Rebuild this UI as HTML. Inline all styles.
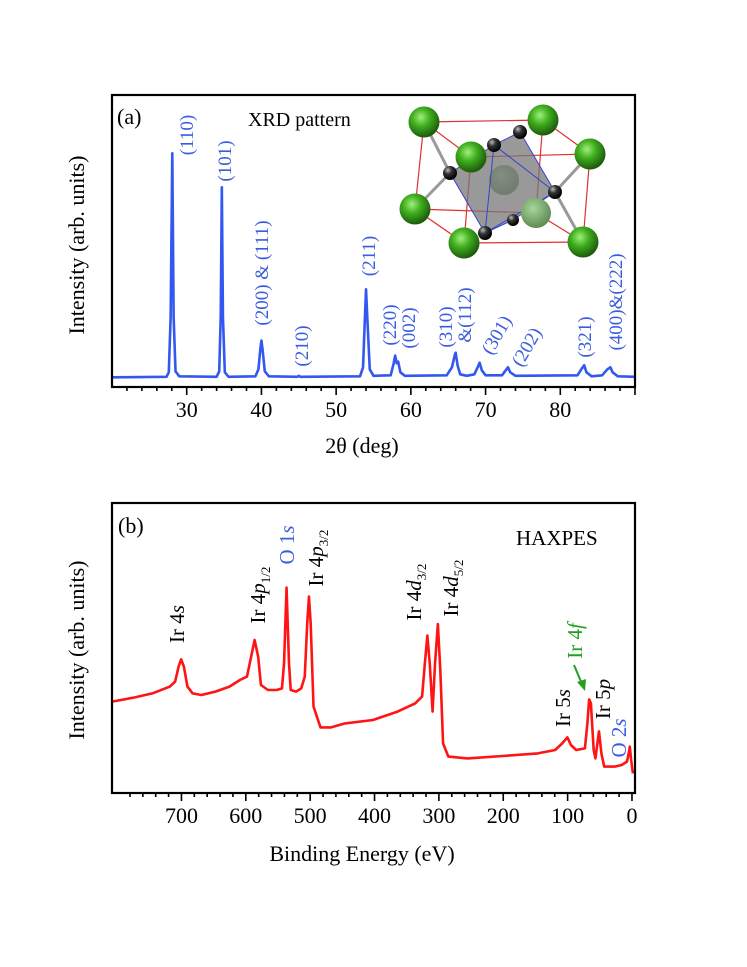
<!DOCTYPE html>
<html><head><meta charset="utf-8"><style>
html,body{margin:0;padding:0;background:#fff}
svg{display:block;font-family:"Liberation Serif",serif}
</style></head><body>
<svg id="fig" width="747" height="967" viewBox="0 0 747 967" xmlns="http://www.w3.org/2000/svg">
<defs>
<radialGradient id="gg" cx="0.4" cy="0.35" r="0.65"><stop offset="0" stop-color="#9ef07a"/><stop offset="0.45" stop-color="#3fae1e"/><stop offset="1" stop-color="#1d5a0c"/></radialGradient>
<radialGradient id="gf" cx="0.4" cy="0.35" r="0.65"><stop offset="0" stop-color="#a8d59a"/><stop offset="1" stop-color="#5f8c55"/></radialGradient>
<radialGradient id="gb" cx="0.35" cy="0.3" r="0.7"><stop offset="0" stop-color="#bbb"/><stop offset="0.4" stop-color="#333"/><stop offset="1" stop-color="#000"/></radialGradient>
</defs>
<g id="panelA"></g>
<g id="panelB"></g>
</svg>
<script>
// ---------- Panel (a) XRD data ----------
const xrdAngles = [20,27.3,27.6,27.85,28.07,28.25,28.5,29,34.0,34.35,34.55,34.7,34.85,35.1,35.6,39.2,39.6,39.85,40.0,40.15,40.45,41,44.8,45.0,45.2,53.2,53.6,53.85,54.0,54.2,54.5,55,57.3,57.7,57.9,58.1,58.3,58.6,59.2,64.8,65.5,65.9,66.0,66.25,66.6,67.5,68.5,69.0,69.2,69.5,70.0,72.2,72.8,73.0,73.3,74,82.3,82.9,83.2,83.5,84.2,85.6,86.3,86.7,87.0,87.7,90];
const xrdIntensity = [0,0.5,5,60,224,60,6,1,0.5,6,60,190,60,5,0.5,1,8,28,36.7,28,6,1,0.5,1.5,0.5,1,10,60,88,55,8,1.5,2,14,21.7,14,15.7,5,1.5,2,10,23,24.6,12,3,1.5,3,11,14.6,7,2,2,8,10,5,1.5,2,9,12,5,1,2,8,10,5,1,0.5];
const xrdTicks = [30,40,50,60,70,80,90];
const xrdTickLabels = ["30","40","50","60","70","80",""];
// ---------- Panel (b) HAXPES data ----------
const beEnergy = [807.8,772.4,745.2,718.0,709.8,704.4,700.5,696.2,690.7,682.6,669.0,647.2,625.4,609.1,598.2,591.7,586.3,580.8,576.5,565.6,552.0,543.8,540.6,536.7,532.9,530.2,522.0,513.9,508.4,504.6,501.9,499.2,494.8,483.9,467.6,445.9,402.3,364.2,337.0,326.1,321.8,317.9,314.2,309.8,306.0,301.6,297.8,293.5,285.3,255.4,201.0,146.5,119.3,108.5,100.3,94.9,86.7,73.1,69.3,66.5,63.8,59.5,56.8,51.3,47.5,43.2,26.8,16.0,7.8,5.1,3.4,1.3,-1.5];
const beIntensity = [45.7,47.8,49.8,53.2,55.7,63.2,66.8,63.2,53.2,49.8,49.0,50.7,53.2,56.5,58.2,68.2,76.5,68.2,54.0,51.5,51.5,52.3,64.8,102.7,64.8,51.5,50.7,52.3,58.2,84.8,98.2,84.8,43.2,32.8,32.8,34.8,36.5,40.7,44.8,48.2,64.8,78.7,64.8,40.7,64.8,84.5,61.5,24.8,18.2,17.3,18.5,19.8,21.5,24.8,27.8,24.0,21.5,22.3,34.8,46.8,44.8,21.5,17.3,30.8,19.8,13.2,13.2,14.0,15.7,19.8,23.2,16.5,9.8];
const beTicks = [700,600,500,400,300,200,100,0];
const beTickLabels = ["700","600","500","400","300","200","100","0"];

const NS="http://www.w3.org/2000/svg";
function mk(tag,attrs,parent){const e=document.createElementNS(NS,tag);for(const k in attrs)e.setAttribute(k,attrs[k]);parent.appendChild(e);return e;}
function scale(d0,d1,r0,r1){return v=>r0+(v-d0)*(r1-r0)/(d1-d0);}

// ===== Panel A =====
const A=document.getElementById('panelA');
const ax=scale(20,90,112,635), ay=scale(-9.7,282.3,387,95);
let p='';xrdAngles.forEach((a,i)=>{p+=(i?'L':'M')+ax(a).toFixed(2)+','+ay(xrdIntensity[i]).toFixed(2);});
const xl=mk('path',{d:p,fill:'none',stroke:'#3358f0','stroke-width':2.6,'stroke-linejoin':'round'},A);


for(let v=22;v<90;v+=2){if(v%10===0)continue;const t=mk('line',{x1:ax(v),x2:ax(v),y1:387,y2:391,stroke:'#000','stroke-width':1.6},A);

}
xrdTicks.forEach((v,i)=>{const t=mk('line',{x1:ax(v),x2:ax(v),y1:387,y2:395,stroke:'#000','stroke-width':1.6},A);


const l=mk('text',{x:ax(v),y:417,'text-anchor':'middle','font-size':22},A);l.textContent=xrdTickLabels[i];

});
const af=mk('rect',{x:112,y:95,width:523,height:292,fill:'none',stroke:'#000','stroke-width':2.2},A);



// ===== Panel B =====
const B=document.getElementById('panelB');
const bx=scale(807.9,-4.7,112,635), by=scale(0,145,793,503);
p='';beEnergy.forEach((e,i)=>{p+=(i?'L':'M')+bx(e).toFixed(2)+','+by(beIntensity[i]).toFixed(2);});
const bl=mk('path',{d:p,fill:'none',stroke:'#ff1414','stroke-width':2.6,'stroke-linejoin':'round'},B);


for(let v=780;v>0;v-=20){if(v%100===0)continue;const t=mk('line',{x1:bx(v),x2:bx(v),y1:793,y2:797,stroke:'#000','stroke-width':1.6},B);

}
beTicks.forEach((v,i)=>{const t=mk('line',{x1:bx(v),x2:bx(v),y1:793,y2:801,stroke:'#000','stroke-width':1.6},B);


const l=mk('text',{x:bx(v),y:823,'text-anchor':'middle','font-size':22},B);l.textContent=beTickLabels[i];

});
const bf=mk('rect',{x:112,y:503,width:523,height:290,fill:'none',stroke:'#000','stroke-width':2.2},B);


</script>
<svg width="747" height="967" style="position:absolute;left:0;top:0" xmlns="http://www.w3.org/2000/svg" font-family="Liberation Serif, serif">
<!-- axis titles -->
<text x="362" y="453" font-size="22" text-anchor="middle">2θ (deg)</text>
<text transform="translate(84,245) rotate(-90)" font-size="22" text-anchor="middle">Intensity (arb. units)</text>
<text x="362" y="861" font-size="22" text-anchor="middle">Binding Energy (eV)</text>
<text transform="translate(84,650) rotate(-90)" font-size="22" text-anchor="middle">Intensity (arb. units)</text>
<!-- panel a labels -->
<text x="117" y="124" font-size="22">(a)</text>
<text x="248" y="126" font-size="20">XRD pattern</text>
<g fill="#3a5ce0" font-size="19" text-anchor="middle">
<text transform="translate(193,135) rotate(-90)">(110)</text>
<text transform="translate(231,161) rotate(-90)">(101)</text>
<text transform="translate(268,273) rotate(-90)">(200) &amp; (111)</text>
<text transform="translate(308,346) rotate(-90)">(210)</text>
<text transform="translate(375,256) rotate(-90)">(211)</text>
<text transform="translate(396,325) rotate(-90)">(220)</text>
<text transform="translate(415,328) rotate(-90)">(002)</text>
<text transform="translate(452,327) rotate(-90)">(310)</text>
<text transform="translate(471,315) rotate(-90)">&amp;(112)</text>
<text transform="translate(502,338) rotate(-60)">(301)</text>
<text transform="translate(532,350) rotate(-60)">(202)</text>
<text transform="translate(591,337) rotate(-90)">(321)</text>
<text transform="translate(622,302) rotate(-90)">(400)&amp;(222)</text>
</g>
<!-- crystal inset -->
<g>
<g stroke="#e03030" stroke-width="1.2" fill="none">
<polygon points="424,122 543,120 590,154 471,157"/>
<polygon points="415,209 536,213 583,242 464,243"/>
<line x1="424" y1="122" x2="415" y2="209"/><line x1="543" y1="120" x2="536" y2="213"/>
<line x1="590" y1="154" x2="583" y2="242"/><line x1="471" y1="157" x2="464" y2="243"/>
</g>
<g stroke="#999" stroke-width="3"><line x1="424" y1="122" x2="450" y2="173"/><line x1="590" y1="154" x2="555" y2="192"/><line x1="415" y1="209" x2="450" y2="173"/><line x1="583" y1="242" x2="555" y2="192"/></g>
<circle cx="504" cy="180" r="15" fill="url(#gf)"/>
<polygon points="494,145 520,132 555,192 513,220 485,233 450,173" fill="#777" fill-opacity="0.75" stroke="#3344cc" stroke-width="1"/>
<g stroke="#3344cc" stroke-width="1" fill="none"><line x1="494" y1="145" x2="485" y2="233"/><line x1="494" y1="145" x2="555" y2="192"/><line x1="485" y1="233" x2="555" y2="192"/></g>
<circle cx="536" cy="213" r="15" fill="url(#gf)"/>
<g fill="url(#gg)">
<circle cx="424" cy="122" r="15.5"/><circle cx="543" cy="120" r="15.5"/><circle cx="471" cy="157" r="15.5"/><circle cx="590" cy="154" r="15.5"/>
<circle cx="415" cy="209" r="15.5"/><circle cx="464" cy="243" r="15.5"/><circle cx="583" cy="242" r="15.5"/>
</g>
<g fill="url(#gb)">
<circle cx="520" cy="132" r="7"/><circle cx="494" cy="145" r="7"/><circle cx="450" cy="173" r="7"/><circle cx="555" cy="192" r="7"/><circle cx="485" cy="233" r="7"/><circle cx="513" cy="220" r="6"/>
</g>
</g>
<!-- panel b labels -->
<text x="118" y="533" font-size="22">(b)</text>
<text x="516" y="545" font-size="21">HAXPES</text>
<g font-size="21" text-anchor="middle">
<text transform="translate(184,624) rotate(-90)">Ir 4<tspan font-style="italic">s</tspan></text>
<text transform="translate(265,595) rotate(-90)">Ir 4<tspan font-style="italic">p</tspan><tspan font-size="13" dy="5">1/2</tspan></text>
<text transform="translate(294,545) rotate(-90)" fill="#3a5ce0">O 1<tspan font-style="italic">s</tspan></text>
<text transform="translate(323,558) rotate(-90)">Ir 4<tspan font-style="italic">p</tspan><tspan font-size="13" dy="5">3/2</tspan></text>
<text transform="translate(421,592) rotate(-90)">Ir 4<tspan font-style="italic">d</tspan><tspan font-size="13" dy="5">3/2</tspan></text>
<text transform="translate(458,588) rotate(-90)">Ir 4<tspan font-style="italic">d</tspan><tspan font-size="13" dy="5">5/2</tspan></text>
<text transform="translate(570,708) rotate(-90)">Ir 5<tspan font-style="italic">s</tspan></text>
<text transform="translate(582,641) rotate(-90)" fill="#22a022">Ir 4<tspan font-style="italic">f</tspan></text>
<text transform="translate(610,699) rotate(-90)">Ir 5<tspan font-style="italic">p</tspan></text>
<text transform="translate(626,738) rotate(-90)" fill="#3a5ce0">O 2<tspan font-style="italic">s</tspan></text>
</g>
<g>
<line x1="574" y1="665" x2="582" y2="684" stroke="#22a022" stroke-width="2"/>
<polygon points="585,691 577,682 586,679" fill="#22a022"/>
</g>
</svg>
</body></html>
